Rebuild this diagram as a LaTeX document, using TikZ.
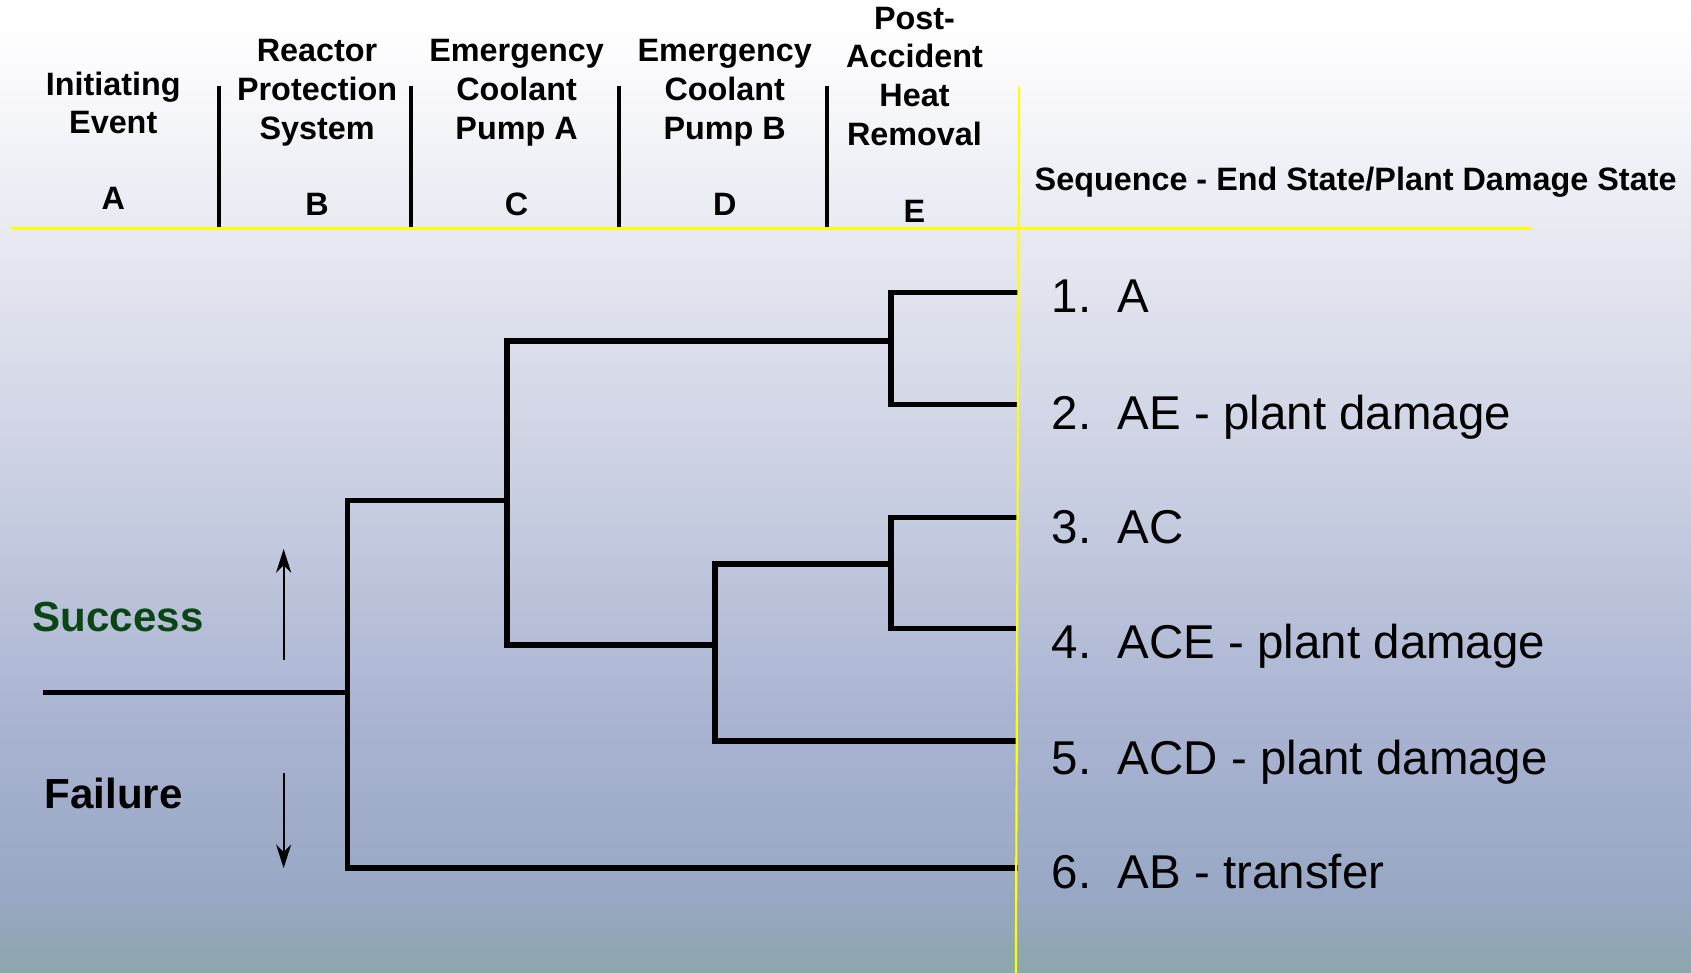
\documentclass[tikz,border=0pt]{standalone}
\usepackage{fontspec}
\setmainfont{Liberation Sans}
\usetikzlibrary{arrows.meta}

% background colours, top to bottom
\definecolor{bgA}{HTML}{FFFFFF}
\definecolor{bgB}{HTML}{FDFDFE}
\definecolor{bgC}{HTML}{FAFAFC}
\definecolor{bgD}{HTML}{E4E6F0}
\definecolor{bgE}{HTML}{C6CCE0}
\definecolor{bgF}{HTML}{AAB4D2}
\definecolor{bgG}{HTML}{98A8C4}
\definecolor{bgH}{HTML}{8FA7B0}
\definecolor{bgI}{HTML}{8EA7AD}
\definecolor{okgreen}{HTML}{0A4614}
\definecolor{rule}{HTML}{FFFF00}

\pgfdeclareverticalshading{slidebg}{100bp}{%
  color(0bp)=(bgI); color(25bp)=(bgI); color(25.89bp)=(bgH);
  color(28.99bp)=(bgG); color(38.25bp)=(bgF); color(48.5bp)=(bgE);
  color(61.36bp)=(bgD); color(71.12bp)=(bgC); color(72.78bp)=(bgB);
  color(75bp)=(bgA); color(100bp)=(bgA)}

\tikzset{
  head/.style={font=\fontsize{15pt}{18pt}\selectfont\bfseries, align=center,
    anchor=north, inner sep=0pt},
  letter/.style={font=\fontsize{15pt}{18pt}\selectfont\bfseries,
    anchor=base, inner sep=0pt},
  seqlabel/.style={font=\fontsize{22pt}{26pt}\selectfont, anchor=base west,
    inner sep=0pt},
  outcome/.style={font=\fontsize{19.5pt}{23pt}\selectfont\bfseries,
    anchor=base west, inner sep=0pt},
  tree/.style={line width=2.5pt, black},
  divider/.style={line width=1.6pt, black},
  yrule/.style={line width=1.6pt, rule},
  yvert/.style={line width=1pt, rule},
  dirarrow/.style={line width=0.9pt, -{Stealth[length=11pt,width=7pt,inset=3.5pt]}}
}

\begin{document}
\begin{tikzpicture}[x=0.5pt, y=-0.5pt]
  \useasboundingbox (0,0) rectangle (1568,902);
  \shade[shading=slidebg] (0,0) rectangle (1568,902);

  % column headings
  \node[head] (hA) at (105,66)  {Initiating\\Event};
  \node[head] (hB) at (294,36)  {Reactor\\Protection\\System};
  \node[head] (hC) at (479,36)  {Emergency\\Coolant\\Pump A};
  \node[head] (hD) at (672,36)  {Emergency\\Coolant\\Pump B};
  \node[head] (hE) at (848,6)   {Post-\\Accident\\Heat\\Removal};
  \node[letter] (lA) at (105,194) {A};
  \node[letter] (lB) at (294,200) {B};
  \node[letter] (lC) at (479,200) {C};
  \node[letter] (lD) at (672,200) {D};
  \node[letter] (lE) at (848,206) {E};
  \node[letter] (hS) at (1257,177) {Sequence - End State/Plant Damage State};

  % column dividers
  \foreach \x in {203, 381, 574, 767}
    \draw[divider] (\x,80) -- (\x,213);

  % event tree branches
  \coordinate (ie) at (40,642);
  \coordinate (bJ) at (322,642);
  \coordinate (bT) at (322,464);
  \coordinate (cJ) at (470,464);
  \coordinate (cT) at (470,316);
  \coordinate (cB) at (470,598);
  \coordinate (eT) at (826,316);
  \coordinate (dJ) at (663,598);
  \coordinate (eM) at (826,523);
  \coordinate (s1) at (944,271);
  \coordinate (s2) at (944,375);
  \coordinate (s3) at (944,480);
  \coordinate (s4) at (944,583);
  \coordinate (s5) at (944,687);
  \coordinate (s6) at (944,805);

  \draw[tree] (ie) -- (bJ);
  \draw[tree] (s6) -| (bT) -- (cJ);
  \draw[tree] (eT) -- (cT) -- (cB) -- (dJ);
  \draw[tree] (s5) -| (dJ) |- (eM);
  \draw[tree] (s1) -| (eT) |- (s2);
  \draw[tree] (s3) -| (eM) |- (s4);

  % yellow rules
  \draw[yrule] (10,212) -- (1420,212);
  \draw[yvert] (945,80) -- (942,902);

  % success / failure legend
  \coordinate (upA) at (263,612);
  \coordinate (upB) at (263,509);
  \coordinate (dnA) at (263,717);
  \coordinate (dnB) at (263,805);
  \draw[dirarrow] (upA) -- (upB);
  \draw[dirarrow] (dnA) -- (dnB);
  \node[outcome, text=okgreen] (succ) at (30,586) {Success};
  \node[outcome] (fail) at (41,750) {Failure};

  % end states
  \node[seqlabel] (q1) at (975,290) {1.\ \ A};
  \node[seqlabel] (q2) at (975,398) {2.\ \ AE - plant damage};
  \node[seqlabel] (q3) at (975,504) {3.\ \ AC};
  \node[seqlabel] (q4) at (975,611) {4.\ \ ACE - plant damage};
  \node[seqlabel] (q5) at (975,718) {5.\ \ ACD - plant damage};
  \node[seqlabel] (q6) at (975,824) {6.\ \ AB - transfer};
\end{tikzpicture}
\end{document}
